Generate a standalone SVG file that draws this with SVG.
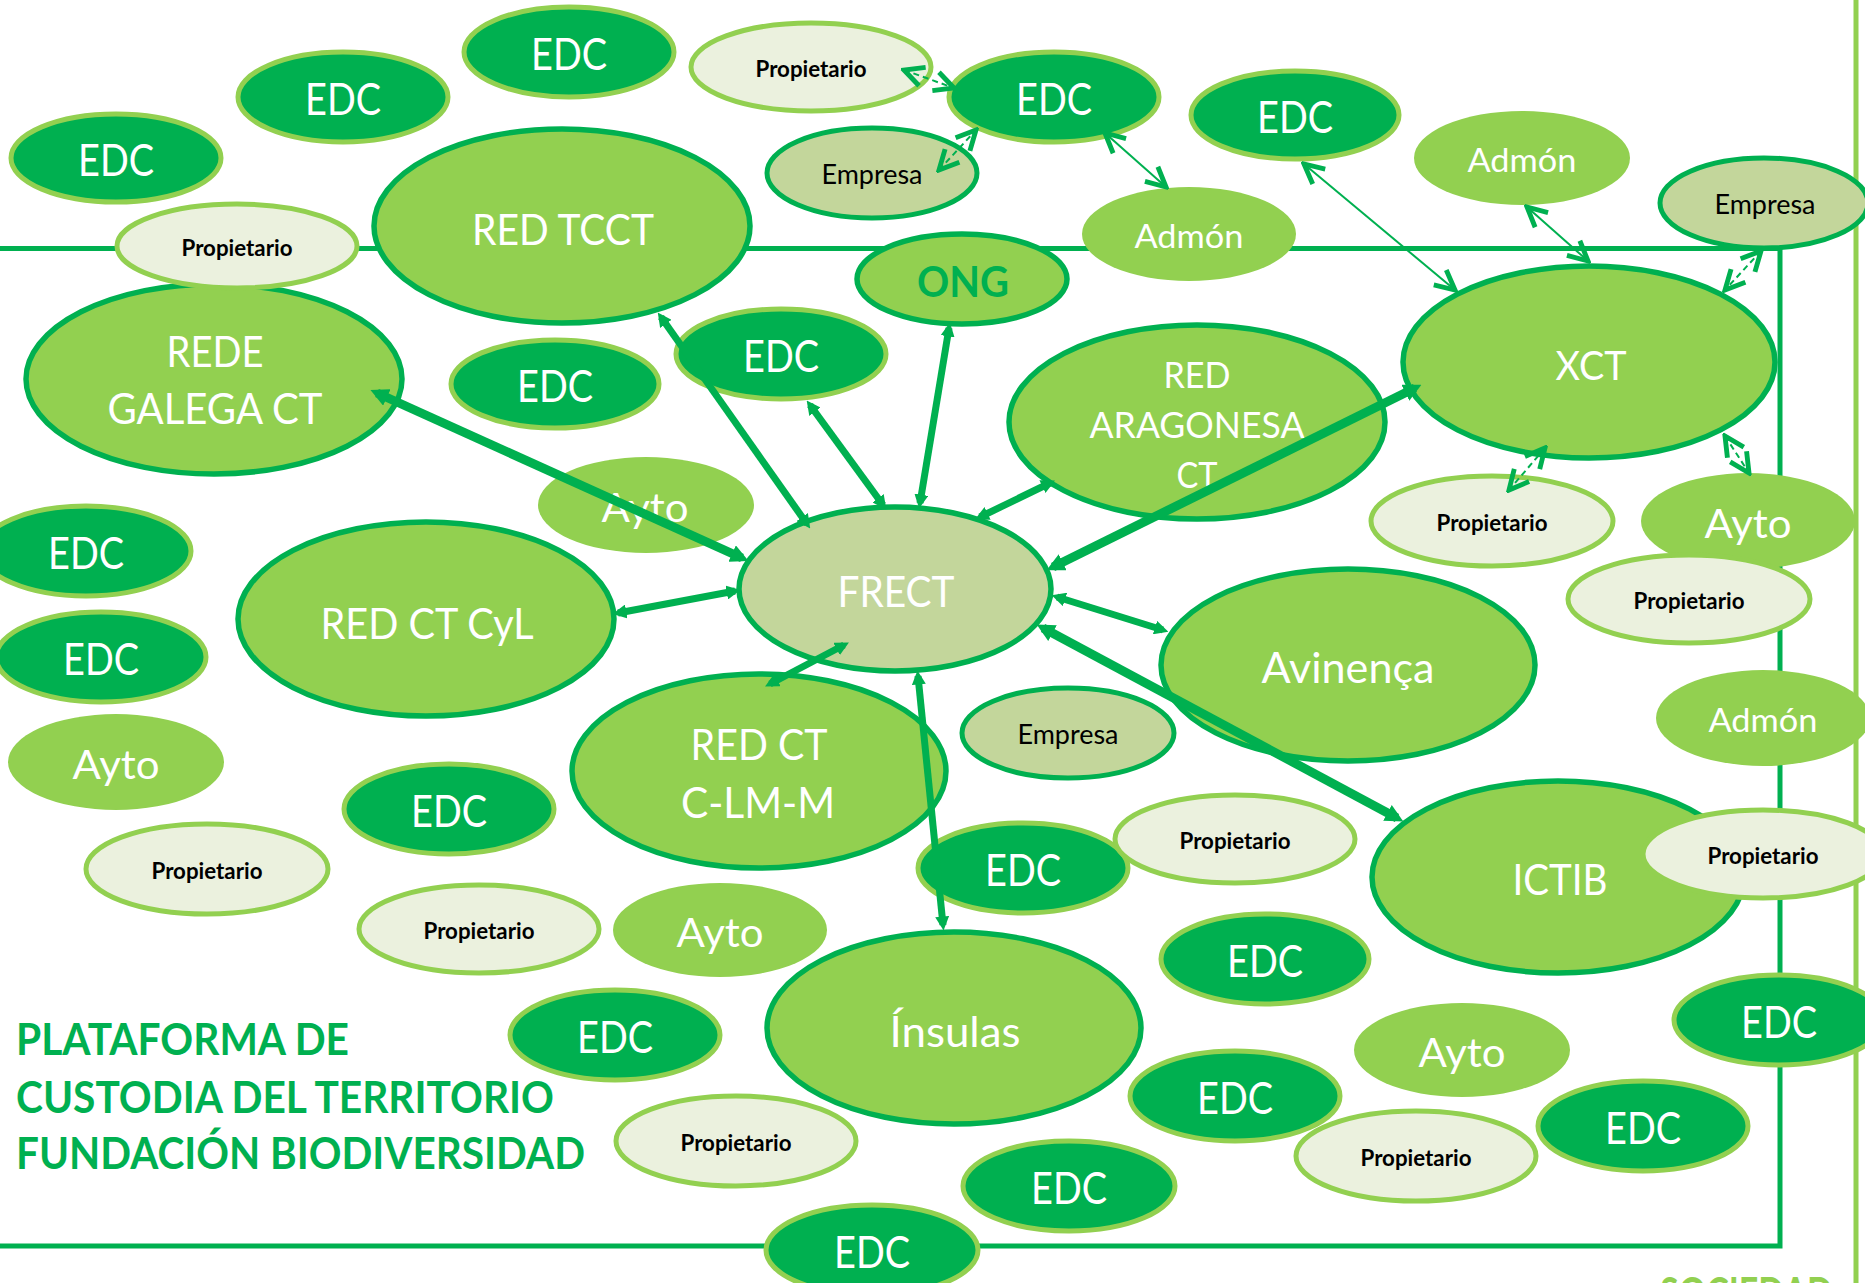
<svg xmlns="http://www.w3.org/2000/svg" width="1865" height="1283" viewBox="0 0 1865 1283">
<defs>
<style>
.edc{fill:#00B050;stroke:#92D050;stroke-width:5}
.prop{fill:#EBF1DE;stroke:#92D050;stroke-width:5}
.emp{fill:#C3D69B;stroke:#00B050;stroke-width:5}
.soft{fill:#92D050}
.big{fill:#92D050;stroke:#00B050;stroke-width:5.5}
.frect{fill:#C3D69B;stroke:#00B050;stroke-width:5.5}
text{font-family:Lato,"Liberation Sans",sans-serif;text-anchor:middle}
.w{fill:#fff}
.k{fill:#000}
.e{font-size:44px}
.p{font-size:22px;font-weight:bold}
.m{font-size:27px}
.a{font-size:32px}
.y{font-size:41px}
.b{font-size:42px}
.thick{stroke:#00B050;fill:none;marker-start:url(#tip);marker-end:url(#tip)}
.thin{stroke:#00B050;fill:none;stroke-width:2;marker-start:url(#chev);marker-end:url(#chev)}
.dash{stroke-dasharray:6 4}
.title{font-size:43px;font-weight:bold;fill:#00B050;text-anchor:start}
</style>
<marker id="tip" viewBox="0 0 10 10" refX="6" refY="5" markerWidth="2" markerHeight="2" orient="auto-start-reverse">
<path d="M0,0 L10,5 L0,10 Z" fill="#00B050"/>
</marker>
<marker id="chev" viewBox="0 0 24 24" refX="21" refY="12" markerWidth="26" markerHeight="26" markerUnits="userSpaceOnUse" orient="auto-start-reverse">
<path d="M3,3 L21,12 L3,21" fill="none" stroke="#00B050" stroke-width="4.5"/>
</marker>
</defs>
<rect width="1865" height="1283" fill="#fff"/>
<g id="frame">
<path d="M0,248.5 H1780 V1246 H0" fill="none" stroke="#00B050" stroke-width="5"/>
<line x1="1856" y1="0" x2="1856" y2="1283" stroke="#92D050" stroke-width="5"/>
</g>
<g id="nodes">
<g id="n_edc1"><ellipse class="edc" cx="116" cy="158" rx="105" ry="44"/><text class="w e" x="116" y="176" textLength="76" lengthAdjust="spacingAndGlyphs">EDC</text></g>
<g id="n_edc2"><ellipse class="edc" cx="343" cy="97" rx="105" ry="45"/><text class="w e" x="343" y="115" textLength="76" lengthAdjust="spacingAndGlyphs">EDC</text></g>
<g id="n_edc3"><ellipse class="edc" cx="569" cy="52" rx="105" ry="45"/><text class="w e" x="569" y="70" textLength="76" lengthAdjust="spacingAndGlyphs">EDC</text></g>
<g id="n_prop1"><ellipse class="prop" cx="811" cy="67" rx="120" ry="44"/><text class="k p" x="811" y="77" textLength="111" lengthAdjust="spacingAndGlyphs">Propietario</text></g>
<g id="n_edc4"><ellipse class="edc" cx="1054" cy="97" rx="105" ry="45"/><text class="w e" x="1054" y="115" textLength="76" lengthAdjust="spacingAndGlyphs">EDC</text></g>
<g id="n_emp1"><ellipse class="emp" cx="872" cy="173" rx="105" ry="45"/><text class="k m" x="872" y="184" textLength="101" lengthAdjust="spacingAndGlyphs">Empresa</text></g>
<g id="n_edc5"><ellipse class="edc" cx="1295" cy="115" rx="104" ry="44"/><text class="w e" x="1295" y="133" textLength="76" lengthAdjust="spacingAndGlyphs">EDC</text></g>
<g id="n_adm1"><ellipse class="soft" cx="1522" cy="158" rx="108" ry="47"/><text class="w a" x="1522" y="172" textLength="109" lengthAdjust="spacingAndGlyphs">Admón</text></g>
<g id="n_adm2"><ellipse class="soft" cx="1189" cy="234" rx="107" ry="47"/><text class="w a" x="1189" y="248" textLength="109" lengthAdjust="spacingAndGlyphs">Admón</text></g>
<g id="n_tcct"><ellipse class="big" cx="562" cy="226" rx="188" ry="97"/><text class="w b" x="563" y="245" textLength="182" lengthAdjust="spacingAndGlyphs">RED TCCT</text></g>
<g id="n_rede"><ellipse class="big" cx="214" cy="379" rx="188" ry="95"/><text class="w b" x="215" y="367" textLength="97" lengthAdjust="spacingAndGlyphs">REDE</text><text class="w b" x="215" y="424" textLength="215" lengthAdjust="spacingAndGlyphs">GALEGA CT</text></g>
<g id="n_prop2"><ellipse class="prop" cx="237" cy="246" rx="120" ry="42"/><text class="k p" x="237" y="256" textLength="111" lengthAdjust="spacingAndGlyphs">Propietario</text></g>
<g id="n_ong"><ellipse class="big" cx="962" cy="279" rx="105" ry="45"/><text class="b" x="963" y="297" font-weight="bold" fill="#00B050" textLength="92" lengthAdjust="spacingAndGlyphs">ONG</text></g>
<g id="n_edc6"><ellipse class="edc" cx="555" cy="384" rx="104" ry="44"/><text class="w e" x="555" y="402" textLength="76" lengthAdjust="spacingAndGlyphs">EDC</text></g>
<g id="n_edc7"><ellipse class="edc" cx="781" cy="354" rx="105" ry="45"/><text class="w e" x="781" y="372" textLength="76" lengthAdjust="spacingAndGlyphs">EDC</text></g>
<g id="n_arag"><ellipse class="big" cx="1197" cy="422" rx="188" ry="97"/><text class="w" font-size="36" x="1197" y="388" textLength="67" lengthAdjust="spacingAndGlyphs">RED</text><text class="w" font-size="36" x="1197" y="438" textLength="215" lengthAdjust="spacingAndGlyphs">ARAGONESA</text><text class="w" font-size="36" x="1197" y="488" textLength="41" lengthAdjust="spacingAndGlyphs">CT</text></g>
<g id="n_xct"><ellipse class="big" cx="1589" cy="362" rx="186" ry="96"/><text class="w" font-size="40" x="1591" y="380" textLength="71" lengthAdjust="spacingAndGlyphs">XCT</text></g>
<g id="n_emp2"><ellipse class="emp" cx="1764" cy="203" rx="104" ry="45"/><text class="k m" x="1765" y="214" textLength="101" lengthAdjust="spacingAndGlyphs">Empresa</text></g>
<g id="n_ayto1"><ellipse class="soft" cx="646" cy="505" rx="108" ry="48"/><text class="w y" x="645" y="522" textLength="87" lengthAdjust="spacingAndGlyphs">Ayto</text></g>
<g id="n_prop3"><ellipse class="prop" cx="1492" cy="521" rx="121" ry="45"/><text class="k p" x="1492" y="531" textLength="111" lengthAdjust="spacingAndGlyphs">Propietario</text></g>
<g id="n_ayto2"><ellipse class="soft" cx="1748" cy="521" rx="107" ry="48"/><text class="w y" x="1748" y="538" textLength="87" lengthAdjust="spacingAndGlyphs">Ayto</text></g>
<g id="n_prop4"><ellipse class="prop" cx="1689" cy="599" rx="121" ry="44"/><text class="k p" x="1689" y="609" textLength="111" lengthAdjust="spacingAndGlyphs">Propietario</text></g>
<g id="n_edc8"><ellipse class="edc" cx="86" cy="551" rx="105" ry="45"/><text class="w e" x="86" y="569" textLength="76" lengthAdjust="spacingAndGlyphs">EDC</text></g>
<g id="n_edc9"><ellipse class="edc" cx="101" cy="657" rx="105" ry="45"/><text class="w e" x="101" y="675" textLength="76" lengthAdjust="spacingAndGlyphs">EDC</text></g>
<g id="n_cyl"><ellipse class="big" cx="426" cy="619" rx="188" ry="97"/><text class="w" font-size="43" x="427" y="639" textLength="213" lengthAdjust="spacingAndGlyphs">RED CT CyL</text></g>
<g id="n_frect"><ellipse class="frect" cx="895" cy="589" rx="156" ry="82"/><text class="w b" x="896" y="607" textLength="117" lengthAdjust="spacingAndGlyphs">FRECT</text></g>
<g id="n_avin"><ellipse class="big" cx="1348" cy="665" rx="187" ry="96"/><text class="w b" x="1348" y="683" textLength="173" lengthAdjust="spacingAndGlyphs">Avinença</text></g>
<g id="n_ayto3"><ellipse class="soft" cx="116" cy="762" rx="108" ry="48"/><text class="w y" x="116" y="779" textLength="87" lengthAdjust="spacingAndGlyphs">Ayto</text></g>
<g id="n_emp3"><ellipse class="emp" cx="1068" cy="733" rx="106" ry="45"/><text class="k m" x="1068" y="744" textLength="101" lengthAdjust="spacingAndGlyphs">Empresa</text></g>
<g id="n_adm3"><ellipse class="soft" cx="1763" cy="718" rx="107" ry="48"/><text class="w a" x="1763" y="732" textLength="109" lengthAdjust="spacingAndGlyphs">Admón</text></g>
<g id="n_clmm"><ellipse class="big" cx="759" cy="771" rx="187" ry="97"/><text class="w b" x="759" y="760" textLength="137" lengthAdjust="spacingAndGlyphs">RED CT</text><text class="w b" x="758" y="818" textLength="154" lengthAdjust="spacingAndGlyphs">C-LM-M</text></g>
<g id="n_edc10"><ellipse class="edc" cx="449" cy="809" rx="105" ry="45"/><text class="w e" x="449" y="827" textLength="76" lengthAdjust="spacingAndGlyphs">EDC</text></g>
<g id="n_prop5"><ellipse class="prop" cx="207" cy="869" rx="121" ry="45"/><text class="k p" x="207" y="879" textLength="111" lengthAdjust="spacingAndGlyphs">Propietario</text></g>
<g id="n_edc11"><ellipse class="edc" cx="1023" cy="868" rx="105" ry="45"/><text class="w e" x="1023" y="886" textLength="76" lengthAdjust="spacingAndGlyphs">EDC</text></g>
<g id="n_prop6"><ellipse class="prop" cx="1235" cy="839" rx="120" ry="44"/><text class="k p" x="1235" y="849" textLength="111" lengthAdjust="spacingAndGlyphs">Propietario</text></g>
<g id="n_ictib"><ellipse class="big" cx="1558" cy="877" rx="186" ry="96"/><text class="w b" x="1560" y="895" textLength="95" lengthAdjust="spacingAndGlyphs">ICTIB</text></g>
<g id="n_prop7"><ellipse class="prop" cx="1763" cy="854" rx="120" ry="44"/><text class="k p" x="1763" y="864" textLength="111" lengthAdjust="spacingAndGlyphs">Propietario</text></g>
<g id="n_prop8"><ellipse class="prop" cx="479" cy="929" rx="120" ry="44"/><text class="k p" x="479" y="939" textLength="111" lengthAdjust="spacingAndGlyphs">Propietario</text></g>
<g id="n_ayto4"><ellipse class="soft" cx="720" cy="930" rx="107" ry="47"/><text class="w y" x="720" y="947" textLength="87" lengthAdjust="spacingAndGlyphs">Ayto</text></g>
<g id="n_edc12"><ellipse class="edc" cx="1265" cy="959" rx="104" ry="45"/><text class="w e" x="1265" y="977" textLength="76" lengthAdjust="spacingAndGlyphs">EDC</text></g>
<g id="n_insu"><ellipse class="big" cx="954" cy="1028" rx="187" ry="96"/><text class="w b" x="955" y="1047" textLength="131" lengthAdjust="spacingAndGlyphs">Ínsulas</text></g>
<g id="n_edc13"><ellipse class="edc" cx="1779" cy="1020" rx="105" ry="45"/><text class="w e" x="1779" y="1038" textLength="76" lengthAdjust="spacingAndGlyphs">EDC</text></g>
<g id="n_edc14"><ellipse class="edc" cx="615" cy="1035" rx="105" ry="45"/><text class="w e" x="615" y="1053" textLength="76" lengthAdjust="spacingAndGlyphs">EDC</text></g>
<g id="n_ayto5"><ellipse class="soft" cx="1462" cy="1050" rx="108" ry="47"/><text class="w y" x="1462" y="1067" textLength="87" lengthAdjust="spacingAndGlyphs">Ayto</text></g>
<g id="n_edc15"><ellipse class="edc" cx="1235" cy="1096" rx="105" ry="45"/><text class="w e" x="1235" y="1114" textLength="76" lengthAdjust="spacingAndGlyphs">EDC</text></g>
<g id="n_prop9"><ellipse class="prop" cx="736" cy="1141" rx="120" ry="45"/><text class="k p" x="736" y="1151" textLength="111" lengthAdjust="spacingAndGlyphs">Propietario</text></g>
<g id="n_edc16"><ellipse class="edc" cx="1643" cy="1126" rx="105" ry="45"/><text class="w e" x="1643" y="1144" textLength="76" lengthAdjust="spacingAndGlyphs">EDC</text></g>
<g id="n_prop10"><ellipse class="prop" cx="1416" cy="1156" rx="120" ry="45"/><text class="k p" x="1416" y="1166" textLength="111" lengthAdjust="spacingAndGlyphs">Propietario</text></g>
<g id="n_edc17"><ellipse class="edc" cx="1069" cy="1186" rx="106" ry="45"/><text class="w e" x="1069" y="1204" textLength="76" lengthAdjust="spacingAndGlyphs">EDC</text></g>
<g id="n_edc18"><ellipse class="edc" cx="872" cy="1250" rx="106" ry="45"/><text class="w e" x="872" y="1268" textLength="76" lengthAdjust="spacingAndGlyphs">EDC</text></g>
</g>
<g id="connectors">
<line class="thick" stroke-width="9" x1="377" y1="393" x2="742" y2="558"/>
<line class="thick" stroke-width="7" x1="661" y1="317" x2="807" y2="524"/>
<line class="thick" stroke-width="7" x1="810" y1="405" x2="883" y2="505"/>
<line class="thick" stroke-width="7" x1="949" y1="328" x2="920" y2="503"/>
<line class="thick" stroke-width="7" x1="1050" y1="483" x2="980" y2="517"/>
<line class="thick" stroke-width="9" x1="1415" y1="388" x2="1053" y2="567"/>
<line class="thick" stroke-width="7" x1="1057" y1="597" x2="1163" y2="630"/>
<line class="thick" stroke-width="9" x1="1043" y1="628" x2="1397" y2="818"/>
<line class="thick" stroke-width="7" x1="918" y1="676" x2="943" y2="925"/>
<line class="thick" stroke-width="7" x1="844" y1="645" x2="770" y2="684"/>
<line class="thick" stroke-width="7" x1="735" y1="591" x2="618" y2="613"/>
<line class="thin dash" x1="904" y1="70" x2="954" y2="88"/>
<line class="thin dash" x1="939" y1="170" x2="976" y2="130"/>
<line class="thin" x1="1105" y1="133" x2="1166" y2="187"/>
<line class="thin" stroke-width="1.5" x1="1304" y1="164" x2="1455" y2="290"/>
<line class="thin" x1="1527" y1="207" x2="1588" y2="261"/>
<line class="thin dash" x1="1761" y1="251" x2="1725" y2="290"/>
<line class="thin dash" x1="1545" y1="448" x2="1509" y2="490"/>
<line class="thin dash" x1="1725" y1="436" x2="1749" y2="473"/>
</g>
<g id="title">
<text class="title" x="16" y="1055" textLength="333" lengthAdjust="spacingAndGlyphs">PLATAFORMA DE</text>
<text class="title" x="16" y="1113" textLength="538" lengthAdjust="spacingAndGlyphs">CUSTODIA DEL TERRITORIO</text>
<text class="title" x="16" y="1169" textLength="569" lengthAdjust="spacingAndGlyphs">FUNDACIÓN BIODIVERSIDAD</text>
<text class="title" x="1660" y="1309" style="fill:#92D050" textLength="173" lengthAdjust="spacingAndGlyphs">SOCIEDAD</text>
</g>
</svg>
